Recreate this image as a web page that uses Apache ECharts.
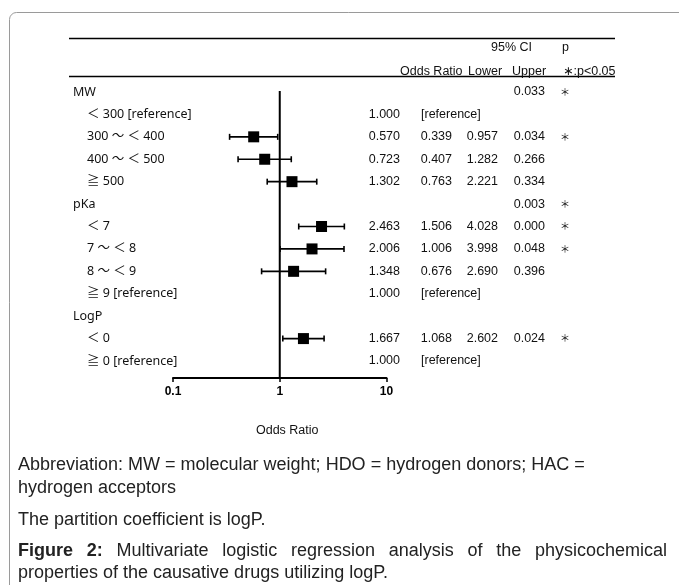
<!DOCTYPE html>
<html>
<head>
<meta charset="utf-8">
<script src="https://cdn.jsdelivr.net/npm/echarts@6/dist/echarts.min.js"></script>
<style>
html, body { margin: 0; padding: 0; background: #fff; }
#chart { width: 679px; height: 585px; }
</style>
</head>
<body>
<div id="chart"></div>
<script>
// 行标签（分组标题 + 子项）
var rowLabels = ['MW', '＜ 300 [reference]', '300 ～ ＜ 400', '400 ～ ＜ 500', '≧ 500',
    'pKa', '＜ 7', '7 ～ ＜ 8', '8 ～ ＜ 9', '≧ 9 [reference]',
    'LogP', '＜ 0', '≧ 0 [reference]'];
var isGroup = [1, 0, 0, 0, 0, 1, 0, 0, 0, 0, 1, 0, 0];
// 比值比和95%置信区间
var oddsRatio = [null, 1.000, 0.570, 0.723, 1.302, null, 2.463, 2.006, 1.348, 1.000, null, 1.667, 1.000];
var ciLower = [null, null, 0.339, 0.407, 0.763, null, 1.506, 1.006, 0.676, null, null, 1.068, null];
var ciUpper = [null, null, 0.957, 1.282, 2.221, null, 4.028, 3.998, 2.690, null, null, 2.602, null];
var pValues = ['0.033', '', '0.034', '0.266', '0.334', '0.003', '0.000', '0.048', '0.396', '', '', '0.024', ''];
var sigMark = ['＊', '', '＊', '', '', '＊', '＊', '＊', '', '', '', '＊', ''];
var xTicks = [0.1, 1, 10];

var numFont = '12.5px "Liberation Sans", "DejaVu Sans", sans-serif';
var labelFont = '12.5px "Noto Sans", "Noto Sans CJK JP", sans-serif';
var capFont = '18px "Liberation Sans", Arial, sans-serif';
var capBold = 'bold 18px "Liberation Sans", Arial, sans-serif';

(function () {
    var myechart = echarts.init(document.getElementById('chart'));

    // 表格文字
    function renderTable(params, api) {
        var i = api.value(1);
        var y = api.coord([1, i])[1];
        var kids = [];
        function txt(s, x, align, font) {
            kids.push({
                type: 'text',
                style: { text: s, x: x, y: y, align: align, verticalAlign: 'middle', font: font, fill: '#111' }
            });
        }
        txt(rowLabels[i], isGroup[i] ? 73 : 87, 'left', labelFont);
        if (oddsRatio[i] != null) {
            txt(oddsRatio[i].toFixed(3), 400, 'right', numFont);
            if (ciLower[i] == null) {
                txt('[reference]', 421, 'left', numFont);
            } else {
                txt(ciLower[i].toFixed(3), 452, 'right', numFont);
                txt(ciUpper[i].toFixed(3), 498, 'right', numFont);
            }
        }
        if (pValues[i]) txt(pValues[i], 545, 'right', numFont);
        if (sigMark[i]) txt(sigMark[i], 565, 'center', '10px "Noto Sans CJK JP", sans-serif');
        return { type: 'group', children: kids };
    }

    // 置信区间须线
    function renderCI(params, api) {
        var i = api.value(1);
        var p1 = api.coord([api.value(0), i]);
        var p2 = api.coord([api.value(2), i]);
        var h = 3;
        var st = { stroke: '#000', lineWidth: 1.6 };
        return {
            type: 'group',
            children: [
                { type: 'line', shape: { x1: p1[0], y1: p1[1], x2: p2[0], y2: p2[1] }, style: st },
                { type: 'line', shape: { x1: p1[0], y1: p1[1] - h, x2: p1[0], y2: p1[1] + h }, style: st },
                { type: 'line', shape: { x1: p2[0], y1: p2[1] - h, x2: p2[0], y2: p2[1] + h }, style: st }
            ]
        };
    }

    // OR=1 参考线
    function renderRef(params, api) {
        var p = api.coord([api.value(0), api.value(1)]);
        var bottom = params.coordSys.y + params.coordSys.height + 17;
        return {
            type: 'line',
            shape: { x1: p[0], y1: p[1] - 1, x2: p[0], y2: bottom },
            style: { stroke: '#000', lineWidth: 2 }
        };
    }

    var ciData = [], pointData = [], tableData = [];
    rowLabels.forEach(function (name, i) {
        tableData.push([1, i]);
        if (ciLower[i] != null) {
            ciData.push([ciLower[i], i, ciUpper[i]]);
            pointData.push([oddsRatio[i], i]);
        }
    });

    // 两端对齐的说明文字
    function justify(words, boldN, x0, x1, y) {
        var ctx = document.createElement('canvas').getContext('2d');
        var widths = words.map(function (w, k) {
            ctx.font = k < boldN ? capBold : capFont;
            return ctx.measureText(w).width;
        });
        var total = widths.reduce(function (a, b) { return a + b; }, 0);
        var gap = (x1 - x0 - total) / (words.length - 1);
        var x = x0, out = [];
        words.forEach(function (w, k) {
            out.push({ type: 'text', x: x, y: y, style: { text: w, font: k < boldN ? capBold : capFont, fill: '#222', verticalAlign: 'middle' } });
            x += widths[k] + gap;
        });
        return out;
    }

    var graphics = [
        { type: 'rect', shape: { x: 9.5, y: 12.5, width: 720, height: 620, r: 7 }, style: { fill: 'none', stroke: '#9a9a9a', lineWidth: 1 } },
        { type: 'line', shape: { x1: 69, y1: 38.5, x2: 615, y2: 38.5 }, style: { stroke: '#000', lineWidth: 1.3 } },
        { type: 'line', shape: { x1: 69, y1: 76.5, x2: 615, y2: 76.5 }, style: { stroke: '#000', lineWidth: 1.3 } },
        { type: 'text', x: 532, y: 48, style: { text: '95% CI', font: numFont, align: 'right', verticalAlign: 'middle', fill: '#111' } },
        { type: 'text', x: 562, y: 48, style: { text: 'p', font: numFont, verticalAlign: 'middle', fill: '#111' } },
        { type: 'text', x: 400, y: 72, style: { text: 'Odds Ratio', font: numFont, verticalAlign: 'middle', fill: '#111' } },
        { type: 'text', x: 468, y: 72, style: { text: 'Lower', font: numFont, verticalAlign: 'middle', fill: '#111' } },
        { type: 'text', x: 512, y: 72, style: { text: 'Upper', font: numFont, verticalAlign: 'middle', fill: '#111' } },
        { type: 'text', x: 563, y: 72, style: { text: '∗:p<0.05', font: numFont, verticalAlign: 'middle', fill: '#111' } },
        { type: 'text', x: 18, y: 465, style: { text: 'Abbreviation: MW = molecular weight; HDO = hydrogen donors; HAC =', font: capFont, verticalAlign: 'middle', fill: '#222' } },
        { type: 'text', x: 18, y: 488, style: { text: 'hydrogen acceptors', font: capFont, verticalAlign: 'middle', fill: '#222' } },
        { type: 'text', x: 18, y: 520, style: { text: 'The partition coefficient is logP.', font: capFont, verticalAlign: 'middle', fill: '#222' } },
        { type: 'text', x: 18, y: 573, style: { text: 'properties of the causative drugs utilizing logP.', font: capFont, verticalAlign: 'middle', fill: '#222' } }
    ].concat(justify(['Figure', '2:', 'Multivariate', 'logistic', 'regression', 'analysis', 'of', 'the', 'physicochemical'], 2, 18, 667, 551));

    var option = {
        animation: false,
        grid: { left: 173, right: 292.5, top: 92, height: 269 },
        xAxis: {
            type: 'log',
            logBase: 10,
            min: 0.1,
            max: 10,
            offset: 17,
            axisLine: { show: true, onZero: false, lineStyle: { color: '#000', width: 2 } },
            axisTick: { show: true, length: 4, lineStyle: { color: '#000', width: 1.5 } },
            axisLabel: {
                color: '#000',
                fontWeight: 'bold',
                fontSize: 12,
                fontFamily: '"Liberation Sans", Arial, sans-serif',
                margin: 8,
                formatter: function (v) {
                    var t = xTicks.filter(function (k) { return Math.abs(k - v) < 1e-9; });
                    return t.length ? String(t[0]) : '';
                }
            },
            splitLine: { show: false },
            name: 'Odds Ratio',
            nameLocation: 'middle',
            nameGap: 46,
            nameTextStyle: { color: '#111', fontSize: 12.5, fontFamily: '"Liberation Sans", sans-serif', padding: [0, 0, 0, 15] }
        },
        yAxis: {
            type: 'category',
            data: rowLabels,
            inverse: true,
            boundaryGap: false,
            show: false
        },
        series: [
            { type: 'custom', name: 'ref', renderItem: renderRef, data: [[1, 0]], encode: { x: 0, y: 1 }, z: 1 },
            { type: 'custom', name: 'ci', renderItem: renderCI, data: ciData, encode: { x: [0, 2], y: 1 }, z: 2 },
            { type: 'scatter', name: 'OR', data: pointData, symbol: 'rect', symbolSize: 11, itemStyle: { color: '#000', opacity: 1 }, z: 3 },
            { type: 'custom', name: 'table', renderItem: renderTable, data: tableData, encode: { x: 0, y: 1 }, z: 4 }
        ],
        graphic: graphics
    };
    myechart.setOption(option);
})();
</script>
</body>
</html>
